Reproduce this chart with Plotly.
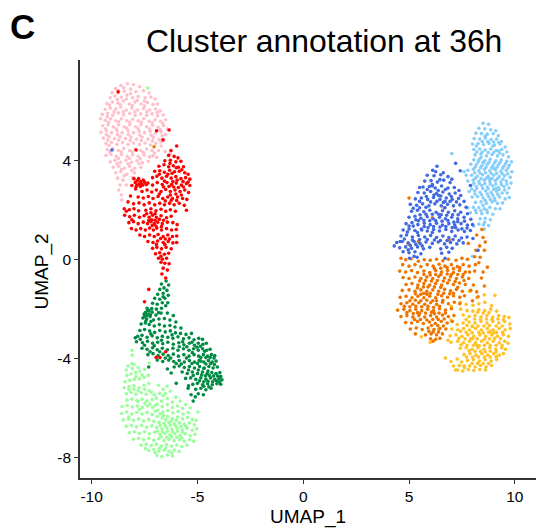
import plotly.graph_objects as go

pink = [(-8.62,7.05),(-8.31,7.12),(-8.02,7.08),(-7.74,7.0),(-8.87,6.92),(-9.03,6.76),(-8.73,6.84),(-8.46,6.82),(-8.16,6.9),(-7.91,6.8),(-7.55,6.84),(-7.28,6.74),
(-9.12,6.55),(-8.9,6.62),(-8.6,6.58),(-8.33,6.66),(-8.07,6.55),(-7.8,6.6),(-7.47,6.55),(-7.2,6.58),(-7.0,6.5),(-9.28,6.32),(-9.02,6.38),(-8.76,6.34),(-8.5,6.42),(-8.22,6.3),(-7.95,6.38),(-7.66,6.3),(-7.36,6.36),(-7.1,6.28),(-6.88,6.3),
(-9.36,6.08),(-9.12,6.14),(-8.86,6.1),(-8.62,6.18),(-8.36,6.06),(-8.1,6.14),(-7.82,6.06),(-7.55,6.12),(-7.26,6.06),(-6.98,6.1),(-6.76,6.02),(-9.5,5.88),(-9.24,5.92),(-9.0,5.84),(-8.74,5.94),(-8.48,5.86),(-8.2,5.92),(-7.94,5.84),(-7.68,5.9),(-7.4,5.84),(-7.14,5.9),(-6.88,5.82),(-6.62,5.86),
(-9.58,5.7),(-9.36,5.64),(-9.1,5.7),(-8.86,5.62),(-8.6,5.7),(-8.34,5.62),(-8.06,5.68),(-7.8,5.62),(-7.54,5.7),(-7.28,5.6),(-7.0,5.66),(-6.74,5.6),(-6.5,5.66),(-9.48,5.42),(-9.22,5.46),(-8.98,5.38),(-8.72,5.46),(-8.46,5.38),(-8.2,5.46),(-7.92,5.38),(-7.66,5.46),(-7.4,5.38),(-7.12,5.44),(-6.86,5.36),(-6.6,5.42),(-6.42,5.3),
(-9.56,5.16),(-9.3,5.22),(-9.06,5.14),(-8.8,5.22),(-8.56,5.14),(-8.28,5.22),(-8.02,5.14),(-7.76,5.2),(-7.5,5.14),(-7.24,5.2),(-6.98,5.12),(-6.72,5.18),(-6.5,5.06),(-9.44,4.92),(-9.18,4.98),(-8.92,4.9),(-8.66,4.98),(-8.4,4.9),(-8.14,4.96),(-7.88,4.88),(-7.62,4.96),(-7.34,4.88),(-7.08,4.94),(-6.82,4.86),(-6.6,4.84),
(-9.32,4.7),(-9.06,4.74),(-8.8,4.66),(-8.54,4.74),(-8.28,4.66),(-8.02,4.72),(-7.74,4.66),(-7.48,4.72),(-7.22,4.64),(-6.96,4.7),(-6.72,4.6),(-9.26,4.46),(-9.0,4.5),(-8.74,4.42),(-8.48,4.5),(-8.2,4.42),(-7.94,4.48),(-7.68,4.42),(-7.4,4.48),(-7.14,4.42),(-6.84,4.42),(-6.52,4.38),(-6.28,4.3),
(-9.32,4.22),(-9.08,4.26),(-8.84,4.18),(-8.58,4.26),(-8.32,4.18),(-8.06,4.24),(-7.8,4.18),(-7.52,4.24),(-7.26,4.16),(-6.92,4.14),(-9.12,3.96),(-8.9,4.02),(-8.64,3.94),(-8.38,4.02),(-8.12,3.94),(-7.86,4.0),(-7.6,3.92),(-7.32,3.98),(-8.98,3.74),(-8.72,3.78),(-8.46,3.7),(-8.2,3.78),(-7.96,3.7),(-7.68,3.74),(-7.98,3.52),
(-8.86,3.52),(-8.62,3.56),(-8.34,3.46),(-8.08,3.32),(-8.78,3.3),(-8.52,3.22),(-8.66,3.02),(-8.72,2.82),(-8.36,3.02),(-8.6,2.62),(-8.58,2.42),(-7.92,3.2),(-9.18,4.62),(-7.1,4.2),
(-8.48,6.96),(-8.16,6.72),(-8.78,6.48),(-8.36,6.5),(-7.84,6.44),(-7.5,6.42),(-9.16,6.26),(-8.64,6.28),(-8.08,6.24),(-7.5,6.22),(-9.26,5.78),(-8.94,5.98),(-8.5,5.98),(-7.96,5.98),(-7.4,5.98),(-6.9,5.96),(-9.2,5.56),(-8.72,5.58),(-8.2,5.56),(-7.66,5.56),(-7.14,5.54),(-6.64,5.52),(-9.34,5.3),(-8.84,5.3),(-8.34,5.32),(-7.8,5.3),(-7.26,5.3),(-6.76,5.28),(-9.3,5.06),(-8.78,5.06),(-8.26,5.06),(-7.72,5.04),(-7.18,5.04),(-6.66,5.02),(-9.24,4.84),(-8.72,4.84),(-8.18,4.82),(-7.66,4.82),(-7.12,4.8),(-6.72,4.76),(-9.14,4.36),(-8.6,4.36),(-8.08,4.36),(-7.56,4.34),(-7.02,4.32),(-8.74,4.1),(-8.22,4.1),(-7.7,4.08),(-8.8,3.88),(-8.28,3.88),(-7.76,3.88),(-8.58,3.66),(-8.1,3.62),(-8.46,3.4)]

red = [(-6.36,4.22),(-6.1,4.18),(-5.92,4.12),(-6.54,4.0),(-6.28,4.02),(-6.02,3.96),(-5.78,3.98),(-6.82,3.78),(-6.58,3.84),(-6.36,3.76),(-6.14,3.8),(-5.9,3.74),(-5.66,3.76),(-7.02,3.58),(-6.78,3.6),(-6.56,3.54),(-6.32,3.62),(-6.08,3.56),(-5.86,3.58),(-5.6,3.52),(-5.44,3.46),
(-7.12,3.32),(-6.92,3.38),(-6.68,3.3),(-6.46,3.38),(-6.24,3.3),(-6.02,3.36),(-5.78,3.28),(-5.56,3.32),(-5.36,3.26),(-7.94,3.12),(-7.84,3.2),(-7.76,3.06),(-7.68,3.16),(-7.58,3.02),(-7.5,3.14),(-7.42,3.04),(-7.86,3.02),(-7.7,2.96),(-7.56,3.22),(-7.34,3.1),(-7.12,3.02),(-6.9,3.12),(-6.66,3.04),(-6.44,3.12),(-6.22,3.04),(-6.0,3.1),(-5.76,3.02),(-5.52,3.08),(-5.36,3.0),
(-7.92,2.86),(-7.62,2.76),(-7.38,2.82),(-7.16,2.74),(-6.94,2.82),(-6.72,2.76),(-6.5,2.84),(-6.28,2.76),(-6.06,2.82),(-5.82,2.76),(-5.6,2.82),(-5.42,2.72),(-8.16,2.58),(-7.8,2.54),(-7.56,2.5),(-7.32,2.56),(-7.1,2.48),(-6.86,2.56),(-6.64,2.48),(-6.4,2.54),(-6.18,2.48),(-5.94,2.54),(-5.7,2.48),(-5.5,2.44),
(-8.28,2.34),(-8.02,2.26),(-7.76,2.3),(-7.52,2.22),(-7.28,2.3),(-7.02,2.22),(-6.78,2.28),(-6.56,2.22),(-6.32,2.28),(-6.1,2.22),(-5.86,2.28),(-5.62,2.2),(-8.46,2.06),(-8.22,2.02),(-8.0,2.06),(-7.78,1.98),(-7.44,2.0),(-7.2,2.06),(-6.96,1.98),(-6.72,2.04),(-6.5,1.96),(-6.28,2.02),(-6.04,1.96),
(-8.44,1.8),(-8.2,1.74),(-7.98,1.8),(-7.74,1.72),(-7.52,1.78),(-7.28,1.72),(-7.12,1.8),(-6.94,1.72),(-6.72,1.78),(-6.46,1.7),(-6.24,1.76),(-8.24,1.5),(-8.02,1.54),(-7.8,1.46),(-7.56,1.52),(-7.36,1.46),(-7.2,1.54),(-7.04,1.46),(-6.88,1.52),(-6.66,1.46),(-6.42,1.52),(-6.16,1.5),(-5.96,1.42),
(-8.12,1.26),(-7.9,1.2),(-7.68,1.26),(-7.46,1.2),(-7.26,1.28),(-7.08,1.2),(-6.92,1.28),(-6.7,1.2),(-6.46,1.26),(-6.22,1.2),(-6.0,1.22),(-7.72,1.0),(-7.5,0.94),(-7.26,1.0),(-7.04,0.94),(-6.86,1.02),(-6.62,0.94),(-6.4,1.0),(-6.18,0.94),(-5.98,0.96),
(-7.34,0.74),(-7.1,0.7),(-6.88,0.76),(-6.62,0.7),(-6.38,0.74),(-6.16,0.68),(-5.98,0.7),(-7.12,0.46),(-6.92,0.5),(-6.7,0.44),(-6.48,0.5),(-6.24,0.44),(-6.98,0.24),(-6.78,0.28),(-6.56,0.22),(-6.36,0.26),(-6.84,0.06),(-6.66,0.02),(-6.46,0.06),(-6.72,-0.1),(-6.54,-0.14),(-6.34,-0.16),(-6.62,-0.34),(-6.42,-0.42),(-6.68,-0.58),(-6.5,-0.74),(-7.3,-1.2),(-7.5,-1.7),(-6.77,-3.96),(-6.5,-3.72),(-6.95,-3.95),
(-8.1,3.0),(-8.0,3.28),(-7.9,2.94),(-7.78,3.28),(-7.64,3.06),(-6.0,3.72),(-6.2,3.5),(-5.74,3.64),(-5.96,3.22),(-6.16,3.16),(-5.68,3.16),(-5.44,3.14),(-6.4,3.46),(-6.56,3.18),(-6.8,3.46),(-6.3,3.9),(-6.12,2.94),(-5.9,2.92),(-5.66,2.94),(-6.34,2.96),(-6.6,2.94),(-6.8,2.66),(-6.28,2.62),(-6.02,2.66),(-5.76,2.62),(-6.52,2.38),(-6.24,2.4),(-5.98,2.4),(-7.16,1.62),(-7.0,1.6),(-7.3,1.58),(-7.14,1.38),(-6.96,1.36),(-6.8,1.64),(-6.6,1.6),(-7.2,1.9),(-7.0,1.86),(-7.4,1.86),(-6.7,1.34),(-6.32,0.84),(-6.52,0.84),(-6.74,0.86),(-6.94,0.62),(-6.54,0.62),(-6.72,0.14),(-8.36,1.96),(-8.1,1.62),(-5.52,2.0)]

dkgreen = [(-6.48,-0.86),(-6.7,-0.98),(-6.36,-1.02),(-6.58,-1.14),(-6.78,-1.2),(-6.44,-1.24),(-6.88,-1.4),(-6.62,-1.36),(-6.38,-1.44),(-7.02,-1.56),(-6.78,-1.6),(-6.54,-1.56),(-7.12,-1.76),(-6.9,-1.8),(-6.66,-1.74),(-6.4,-1.74),(-7.38,-1.96),(-7.16,-1.98),(-6.94,-2.0),(-6.7,-1.96),(-7.46,-2.14),(-7.3,-2.2),(-7.14,-2.12),(-6.96,-2.24),(-6.72,-2.16),(-6.42,-2.16),(-6.14,-2.26),
(-7.58,-2.36),(-7.4,-2.4),(-7.24,-2.3),(-7.08,-2.44),(-6.82,-2.4),(-6.56,-2.38),(-6.3,-2.44),(-6.02,-2.52),(-7.66,-2.6),(-7.46,-2.56),(-7.28,-2.62),(-7.04,-2.68),(-6.8,-2.62),(-6.56,-2.68),(-6.3,-2.66),(-6.06,-2.72),(-5.78,-2.76),(-7.72,-2.86),(-7.5,-2.82),(-7.26,-2.88),(-7.02,-2.94),(-6.78,-2.86),(-6.52,-2.92),(-6.28,-2.88),(-6.04,-2.96),(-5.8,-2.98),(-5.54,-3.02),(-5.28,-2.98),
(-7.82,-3.1),(-7.62,-3.06),(-7.38,-3.14),(-7.14,-3.08),(-6.9,-3.16),(-6.66,-3.1),(-6.4,-3.14),(-6.16,-3.18),(-5.92,-3.12),(-5.66,-3.2),(-5.4,-3.16),(-5.16,-3.24),(-4.94,-3.18),(-4.76,-3.22),(-7.88,-3.32),(-7.6,-3.36),(-7.36,-3.3),(-7.12,-3.38),(-6.88,-3.34),(-6.64,-3.4),(-6.4,-3.34),(-6.14,-3.42),(-5.88,-3.36),(-5.64,-3.44),(-5.38,-3.38),(-5.14,-3.46),(-4.96,-3.38),(-4.74,-3.42),(-4.58,-3.38),
(-7.62,-3.58),(-7.38,-3.62),(-7.12,-3.56),(-6.9,-3.64),(-6.66,-3.58),(-6.42,-3.64),(-6.16,-3.58),(-5.92,-3.66),(-5.66,-3.6),(-5.4,-3.66),(-5.18,-3.6),(-4.96,-3.66),(-4.76,-3.6),(-4.56,-3.66),(-4.4,-3.62),(-7.34,-3.84),(-7.1,-3.8),(-6.86,-3.88),(-6.62,-3.82),(-6.38,-3.88),(-6.14,-3.82),(-5.9,-3.9),(-5.64,-3.84),(-5.4,-3.9),(-5.16,-3.84),(-4.94,-3.9),(-4.72,-3.84),(-4.52,-3.9),(-4.34,-3.84),(-4.18,-3.88),
(-6.9,-4.06),(-6.64,-4.12),(-6.36,-4.06),(-6.12,-4.12),(-5.86,-4.08),(-5.62,-4.14),(-5.38,-4.08),(-5.14,-4.14),(-4.92,-4.08),(-4.7,-4.14),(-4.48,-4.08),(-4.3,-4.14),(-4.12,-4.1),(-6.1,-4.34),(-5.86,-4.3),(-5.62,-4.36),(-5.38,-4.32),(-5.14,-4.38),(-4.9,-4.32),(-4.68,-4.38),(-4.46,-4.32),(-4.26,-4.38),(-4.06,-4.34),(-6.24,-4.58),(-5.72,-4.54),(-5.48,-4.6),(-5.24,-4.54),(-5.0,-4.6),(-4.76,-4.54),(-4.54,-4.6),(-4.32,-4.56),(-4.12,-4.6),(-3.94,-4.56),
(-5.56,-4.8),(-5.32,-4.78),(-5.08,-4.84),(-4.84,-4.78),(-4.6,-4.84),(-4.38,-4.78),(-4.18,-4.84),(-3.98,-4.8),(-3.84,-4.86),(-5.22,-5.04),(-5.0,-5.0),(-4.76,-5.06),(-4.52,-5.02),(-4.3,-5.06),(-4.08,-5.02),(-3.9,-5.04),(-5.44,-5.2),(-5.08,-5.24),(-4.84,-5.2),(-4.6,-5.26),(-4.36,-5.2),(-5.3,-5.46),(-4.96,-5.42),(-4.72,-5.46),(-5.2,-5.72),(-6.0,-5.0),(-6.42,-4.42),(-7.3,-4.34),(-5.24,-3.76),(-7.94,-3.16),(-5.0,-4.2),(-4.84,-4.1),(-4.7,-4.4),(-4.5,-4.5),(-7.5,-2.3),(-7.36,-2.06),(-7.22,-2.24),
(-7.52,-2.2),(-7.4,-2.26),(-7.28,-2.06),(-7.44,-2.48),(-7.2,-2.5),(-6.62,-1.5),(-6.5,-1.86),(-6.84,-2.14),(-7.2,-3.0),(-6.7,-3.26),(-6.2,-3.04),(-5.7,-3.32),(-5.26,-3.34),(-5.02,-3.54),(-4.86,-3.5),(-4.66,-3.7),(-4.84,-3.96),(-4.6,-3.96),(-4.4,-3.96),(-4.22,-3.98),(-4.6,-4.22),(-4.38,-4.2),(-4.2,-4.24),(-4.96,-4.46),(-4.8,-4.66),(-4.62,-4.7),(-4.44,-4.68),(-4.24,-4.7),(-4.05,-4.7),(-3.9,-4.72),(-4.9,-4.9),(-4.7,-4.94),(-4.5,-4.92),(-4.28,-4.94),(-4.1,-4.9),(-3.96,-4.94),(-5.2,-4.68),(-5.42,-4.46),(-5.26,-4.2),(-5.52,-3.98),(-5.76,-4.22),(-6.0,-4.2),(-6.26,-3.98),(-6.52,-3.98),(-6.78,-3.72),(-7.04,-3.48),(-7.24,-3.72),(-7.5,-3.46),(-7.7,-3.22),(-5.86,-3.52),(-5.5,-3.52),(-4.7,-5.12),(-4.46,-5.14),(-5.1,-5.55),(-5.42,-5.1)]

ltgreen = [(-8.1,-3.66),(-8.08,-3.86),(-7.28,-4.18),(-8.1,-4.2),(-8.08,-4.4),(-8.34,-4.68),(-8.14,-4.62),(-7.92,-4.56),(-7.72,-4.5),(-8.42,-4.94),(-8.2,-4.88),(-7.98,-4.84),(-7.74,-4.82),(-7.52,-4.76),(-7.32,-4.68),(-8.46,-5.18),(-8.24,-5.14),(-8.0,-5.1),(-7.76,-5.18),(-7.52,-5.08),(-7.3,-5.0),(-6.62,-5.5),(-8.36,-5.42),(-8.14,-5.36),(-7.9,-5.44),(-7.66,-5.38),(-7.42,-5.44),(-7.18,-5.36),(-6.94,-5.6),(-6.7,-5.72),(-6.42,-5.62),(-6.18,-5.76),
(-8.34,-5.68),(-8.1,-5.64),(-7.86,-5.7),(-7.62,-5.64),(-7.38,-5.72),(-7.14,-5.66),(-6.9,-5.84),(-6.66,-5.94),(-6.42,-5.86),(-6.18,-5.98),(-5.94,-5.92),(-5.7,-6.02),(-8.56,-5.94),(-8.32,-5.9),(-8.08,-5.96),(-7.84,-5.92),(-7.6,-5.98),(-7.36,-5.92),(-7.12,-5.98),(-6.88,-6.1),(-6.64,-6.16),(-6.4,-6.1),(-6.16,-6.2),(-5.92,-6.14),(-5.68,-6.24),(-5.44,-6.18),
(-8.58,-6.22),(-8.34,-6.16),(-8.1,-6.24),(-7.86,-6.18),(-7.62,-6.24),(-7.38,-6.18),(-7.14,-6.26),(-6.9,-6.34),(-6.66,-6.4),(-6.42,-6.34),(-6.18,-6.42),(-5.94,-6.36),(-5.7,-6.44),(-5.46,-6.38),(-5.24,-6.46),(-8.5,-6.48),(-8.26,-6.44),(-8.02,-6.5),(-7.78,-6.44),(-7.54,-6.52),(-7.3,-6.46),(-7.06,-6.54),(-6.82,-6.58),(-6.58,-6.62),(-6.34,-6.58),(-6.1,-6.64),(-5.86,-6.6),(-5.62,-6.66),(-5.38,-6.6),(-5.14,-6.68),
(-8.36,-6.74),(-8.12,-6.7),(-7.88,-6.76),(-7.64,-6.7),(-7.4,-6.78),(-7.16,-6.72),(-6.92,-6.8),(-6.68,-6.84),(-6.44,-6.8),(-6.2,-6.86),(-5.96,-6.82),(-5.72,-6.88),(-5.48,-6.82),(-5.24,-6.9),(-5.04,-6.84),(-8.22,-7.0),(-7.98,-6.96),(-7.74,-7.02),(-7.5,-6.96),(-7.26,-7.04),(-7.02,-6.98),(-6.78,-7.06),(-6.54,-7.02),(-6.3,-7.08),(-6.06,-7.04),(-5.82,-7.1),(-5.58,-7.04),(-5.34,-7.12),(-5.12,-7.06),
(-8.02,-7.26),(-7.78,-7.22),(-7.54,-7.28),(-7.3,-7.22),(-7.06,-7.3),(-6.82,-7.24),(-6.58,-7.32),(-6.34,-7.26),(-6.1,-7.32),(-5.86,-7.28),(-5.62,-7.34),(-5.38,-7.28),(-5.18,-7.34),(-7.66,-7.5),(-7.42,-7.46),(-7.18,-7.52),(-6.94,-7.46),(-6.7,-7.54),(-6.46,-7.48),(-6.22,-7.54),(-5.98,-7.5),(-5.74,-7.56),(-5.5,-7.5),(-7.3,-7.72),(-7.06,-7.68),(-6.82,-7.74),(-6.58,-7.7),(-6.34,-7.76),(-6.1,-7.7),(-5.86,-7.76),(-6.92,-7.92),(-6.68,-7.96),(-6.42,-7.9),(-6.18,-7.94),(-7.82,-5.74),(-8.24,-6.36),(-7.0,-5.9),(-6.6,-6.3),
(-8.28,-4.3),(-8.36,-4.46),(-8.0,-4.24),(-7.8,-4.36),(-7.5,-4.44),(-7.9,-4.72),(-7.62,-4.66),(-6.84,-5.08),(-6.62,-5.24),(-6.44,-5.12),(-6.28,-5.32),(-6.78,-5.4),(-7.04,-5.46),(-7.28,-5.3),(-6.52,-5.42),(-7.5,-5.24),(-7.8,-5.3),(-8.0,-5.24),(-8.24,-5.26),(-6.02,-5.56),(-5.82,-5.72),(-5.56,-5.86),(-7.24,-5.84),(-7.48,-5.8),(-7.74,-6.06),(-7.0,-6.12),(-6.76,-6.24),(-6.5,-6.48),(-6.24,-6.52),(-6.0,-6.5),(-6.76,-6.7),(-6.52,-6.72),(-6.28,-6.7),(-6.04,-6.72),(-5.78,-6.74),(-5.54,-6.74),(-6.9,-6.94),(-6.66,-6.96),(-6.42,-6.94),(-6.18,-6.96),(-5.94,-6.94),(-5.7,-6.98),(-6.72,-7.16),(-6.46,-7.18),(-6.22,-7.16),(-5.98,-7.18),(-5.74,-7.2),(-6.8,-7.64),(-6.5,-7.62),(-7.0,-7.8),(-6.2,-7.82),(-7.46,-7.64),(-5.34,-6.0),(-5.06,-6.5),(-4.98,-6.16)]

blue = [(6.32,3.78),(6.12,3.62),(6.62,3.52),(5.86,3.42),(6.18,3.4),(6.5,3.44),(6.84,3.36),(7.02,3.26),(5.74,3.18),(6.04,3.2),(6.34,3.14),(6.64,3.22),(6.94,3.12),(5.66,2.94),(5.96,2.96),(6.24,2.9),(6.54,2.98),(6.84,2.9),(7.14,2.92),(7.36,2.8),(5.42,2.72),(5.72,2.7),(6.02,2.76),(6.3,2.68),(6.6,2.74),(6.9,2.66),(7.18,2.7),(7.44,2.6),
(5.3,2.46),(5.58,2.5),(5.88,2.44),(6.16,2.52),(6.46,2.44),(6.76,2.5),(7.04,2.44),(7.34,2.48),(7.6,2.36),(5.06,2.24),(5.36,2.2),(5.64,2.26),(5.94,2.18),(6.22,2.26),(6.52,2.18),(6.82,2.24),(7.1,2.18),(7.4,2.22),(7.7,2.12),(5.12,1.96),(5.4,2.0),(5.7,1.94),(5.98,2.0),(6.28,1.92),(6.58,1.98),(6.86,1.92),(7.16,1.98),(7.44,1.92),(7.76,1.86),
(5.0,1.72),(5.28,1.76),(5.56,1.68),(5.86,1.74),(6.14,1.66),(6.44,1.72),(6.72,1.66),(7.02,1.72),(7.3,1.66),(7.6,1.72),(7.92,1.64),(4.86,1.46),(5.14,1.5),(5.42,1.42),(5.72,1.48),(6.0,1.42),(6.3,1.48),(6.58,1.4),(6.88,1.46),(7.16,1.4),(7.46,1.46),(7.76,1.4),(8.0,1.42),
(4.72,1.2),(5.0,1.24),(5.28,1.18),(5.58,1.24),(5.86,1.16),(6.16,1.22),(6.44,1.16),(6.74,1.22),(7.02,1.14),(7.32,1.2),(7.62,1.14),(7.9,1.18),(4.62,0.96),(4.88,1.0),(5.16,0.92),(5.44,0.98),(5.74,0.92),(6.02,0.98),(6.3,0.9),(6.6,0.96),(6.88,0.9),(7.18,0.96),(7.48,0.88),(7.74,0.92),(8.02,0.86),
(4.42,0.7),(4.68,0.74),(4.96,0.68),(5.24,0.74),(5.52,0.66),(5.8,0.72),(6.1,0.66),(6.38,0.72),(6.68,0.64),(6.96,0.7),(7.26,0.64),(7.56,0.68),(4.3,0.56),(4.56,0.48),(4.84,0.52),(5.12,0.46),(5.4,0.52),(5.68,0.44),(5.98,0.5),(6.5,0.44),(6.78,0.5),(7.04,0.46),(4.72,0.32),(5.0,0.28),(5.28,0.32),(5.56,0.24),(6.54,0.26),(6.88,0.3),(5.02,0.06),(5.38,0.1),(6.7,0.06),
(5.5,2.92),(5.82,2.56),(6.1,2.98),(6.4,2.6),(6.7,2.36),(7.0,2.56),(5.5,2.1),(5.8,2.12),(6.1,1.84),(6.4,1.84),(6.7,2.1),(5.6,1.2),(5.9,1.3),(6.1,1.1),(5.4,1.1),(5.2,1.36),(5.0,1.36),(7.2,1.3),(7.5,1.25),(7.9,3.0),(7.2,3.9),(7.42,3.6),(8.26,0.38),(7.12,1.52),
(6.26,3.56),(6.46,3.24),(6.1,3.04),(5.86,2.84),(6.38,2.8),(6.72,2.84),(6.18,2.62),(6.5,2.58),(6.02,2.34),(6.32,2.36),(6.62,2.32),(6.94,2.36),(7.24,2.34),(5.52,1.82),(5.8,1.84),(6.52,1.82),(6.78,1.8),(7.06,1.82),(7.32,1.82),(5.44,1.58),(5.7,1.6),(5.98,1.58),(6.26,1.58),(6.56,1.56),(6.84,1.58),(7.3,1.54),(7.62,1.56),(5.72,1.34),(6.16,1.34),(6.46,1.32),(6.74,1.34),(7.04,1.3),(7.74,1.28),(5.5,0.82),(5.86,0.82),(5.16,0.8),(4.78,0.84),(6.2,0.8),(6.48,0.78),(6.8,0.78),(7.08,0.82),(7.36,0.78),(5.06,0.58),(5.32,0.62),(5.62,0.56),(4.96,0.4),(5.24,0.14),(4.58,0.74),(4.92,1.12),(5.32,1.62),(5.2,2.08),(5.5,2.36)]

sky = [(8.5,5.52),(8.76,5.48),(8.3,5.32),(8.58,5.3),(8.86,5.26),(9.1,5.22),(8.16,5.12),(8.42,5.1),(8.7,5.08),(8.98,5.1),(9.22,5.02),(8.08,4.9),(8.34,4.88),(8.6,4.92),(8.88,4.86),(9.14,4.88),(9.36,4.78),(8.0,4.68),(8.26,4.7),(8.52,4.66),(8.78,4.7),(9.04,4.64),(9.3,4.68),(9.54,4.56),(7.02,4.3),(8.06,4.46),(8.34,4.48),(8.6,4.44),(8.86,4.48),(9.12,4.42),(9.38,4.46),(9.62,4.36),
(8.12,4.24),(8.4,4.28),(8.66,4.2),(8.92,4.26),(9.18,4.2),(9.44,4.24),(9.7,4.16),(8.06,4.04),(8.32,4.06),(8.58,4.0),(8.84,4.06),(9.1,4.0),(9.36,4.04),(9.62,3.98),(9.84,3.96),(7.92,3.86),(8.18,3.84),(8.44,3.8),(8.7,3.86),(8.96,3.8),(9.22,3.84),(9.48,3.78),(9.74,3.82),(7.78,3.62),(8.04,3.66),(8.3,3.6),(8.56,3.66),(8.82,3.6),(9.08,3.64),(9.34,3.58),(9.6,3.62),(9.86,3.56),
(7.7,3.42),(7.96,3.42),(8.22,3.38),(8.48,3.44),(8.74,3.38),(9.0,3.42),(9.26,3.36),(9.52,3.4),(9.78,3.34),(7.78,3.18),(8.04,3.22),(8.3,3.16),(8.56,3.22),(8.82,3.16),(9.08,3.2),(9.34,3.14),(9.6,3.18),(9.82,3.1),(7.92,3.0),(8.18,2.96),(8.44,3.0),(8.7,2.94),(8.96,2.98),(9.22,2.92),(9.48,2.96),(9.72,2.9),
(7.84,2.76),(8.1,2.78),(8.36,2.72),(8.62,2.78),(8.88,2.72),(9.14,2.76),(9.4,2.7),(9.64,2.7),(7.98,2.54),(8.24,2.56),(8.5,2.5),(8.76,2.56),(9.02,2.5),(9.28,2.54),(9.54,2.46),(9.74,2.52),(8.14,2.32),(8.4,2.34),(8.66,2.28),(8.92,2.34),(9.18,2.28),(9.42,2.3),(7.78,2.1),(8.04,2.12),(8.3,2.1),(8.56,2.06),(8.82,2.12),(9.08,2.06),(9.3,2.06),(7.9,1.9),(8.18,1.9),(8.44,1.86),(8.7,1.9),(8.96,1.84),
(8.36,1.66),(8.6,1.68),(8.84,1.62),(8.3,1.44),(8.52,1.42),(8.76,1.38),(8.06,1.36),(8.56,1.24),(8.0,0.14),(7.6,3.56),(8.6,5.0),(8.96,4.6),(9.24,4.4),(8.5,3.94),(8.8,3.28),(8.2,2.88),(9.1,2.88),(8.5,2.2),(8.84,2.44),(8.18,4.6),(9.0,3.7),(8.4,4.14),
(8.46,4.78),(8.72,4.78),(9.0,4.76),(9.24,4.74),(8.2,4.36),(8.46,4.36),(8.74,4.34),(9.0,4.34),(9.28,4.32),(8.26,3.96),(8.52,3.92),(8.78,3.94),(9.04,3.92),(9.3,3.94),(9.56,3.88),(8.12,3.74),(8.38,3.72),(8.64,3.74),(8.9,3.72),(9.16,3.74),(9.42,3.7),(9.68,3.72),(8.1,3.52),(8.36,3.5),(8.62,3.52),(8.88,3.5),(9.14,3.5),(9.4,3.48),(9.66,3.48),(8.14,3.3),(8.4,3.28),(8.66,3.3),(8.92,3.28),(9.18,3.28),(9.44,3.26),(8.06,3.08),(8.32,3.08),(8.58,3.08),(8.84,3.06),(9.1,3.06),(9.36,3.04),(9.62,3.06),(7.96,2.86),(8.48,2.88),(8.74,2.86),(9.0,2.84),(9.26,2.84),(9.52,2.82),(8.12,2.66),(8.44,2.62),(8.7,2.66),(8.96,2.62),(9.2,2.64),(8.6,2.4),(9.06,2.4),(8.68,2.0),(8.4,1.98),(8.14,2.0),(8.58,1.52)]

orange = [(4.62,0.06),(4.84,0.0),(5.1,0.04),(5.44,-0.06),(5.72,0.0),(6.0,-0.02),(6.3,0.02),(6.6,-0.04),(6.86,0.02),(7.22,-0.02),(7.5,0.06),(7.76,0.02),(8.1,0.12),(8.36,0.1),(4.7,-0.2),(5.0,-0.26),(5.28,-0.2),(5.56,-0.28),(5.86,-0.2),(6.14,-0.26),(6.42,-0.18),(6.7,-0.26),(7.0,-0.2),(7.28,-0.28),(7.56,-0.2),(7.84,-0.26),(8.14,-0.2),
(4.56,-0.46),(4.84,-0.5),(5.12,-0.44),(5.4,-0.52),(5.7,-0.46),(5.98,-0.52),(6.26,-0.44),(6.54,-0.5),(6.82,-0.44),(7.1,-0.52),(7.38,-0.44),(7.66,-0.5),(8.1,-0.46),(4.72,-0.72),(5.0,-0.76),(5.28,-0.7),(5.56,-0.76),(5.84,-0.7),(6.12,-0.76),(6.4,-0.68),(6.68,-0.74),(6.96,-0.68),(7.24,-0.76),(7.52,-0.7),(7.82,-0.76),(8.42,-0.74),
(4.86,-1.0),(5.14,-0.96),(5.42,-1.02),(5.7,-0.96),(5.98,-1.02),(6.26,-0.96),(6.54,-1.02),(6.82,-0.94),(7.1,-1.0),(7.38,-0.94),(7.66,-1.0),(8.04,-1.02),(8.56,-1.06),(4.68,-1.24),(5.0,-1.22),(5.28,-1.28),(5.56,-1.22),(5.84,-1.28),(6.12,-1.22),(6.4,-1.28),(6.68,-1.2),(6.96,-1.26),(7.24,-1.2),(7.52,-1.28),(7.92,-1.24),(8.2,-1.3),
(4.58,-1.52),(4.86,-1.48),(5.14,-1.54),(5.42,-1.48),(5.7,-1.54),(5.98,-1.48),(6.26,-1.54),(6.54,-1.46),(6.82,-1.52),(7.1,-1.46),(7.4,-1.52),(7.62,-1.46),(8.26,-1.5),(4.62,-1.78),(4.9,-1.74),(5.18,-1.8),(5.46,-1.74),(5.74,-1.8),(6.02,-1.74),(6.3,-1.8),(6.58,-1.72),(6.86,-1.78),(7.14,-1.72),(7.4,-1.78),(8.0,-1.66),
(4.46,-2.04),(4.76,-2.0),(5.04,-2.06),(5.32,-2.0),(5.6,-2.06),(5.88,-2.0),(6.16,-2.06),(6.44,-1.98),(6.72,-2.04),(7.0,-1.98),(4.62,-2.3),(4.9,-2.26),(5.18,-2.32),(5.46,-2.26),(5.74,-2.32),(6.02,-2.26),(6.3,-2.32),(6.58,-2.24),(6.86,-2.3),(7.12,-2.26),
(4.84,-2.54),(5.12,-2.56),(5.4,-2.5),(5.68,-2.58),(5.96,-2.52),(6.24,-2.58),(6.52,-2.5),(6.8,-2.56),(7.04,-2.5),(5.06,-2.8),(5.34,-2.76),(5.62,-2.82),(5.9,-2.76),(6.18,-2.82),(6.46,-2.78),(6.74,-2.8),(5.3,-3.0),(5.78,-3.04),(6.04,-3.0),(6.3,-3.04),(6.58,-3.0),(6.02,-3.2),(6.26,-3.22),(6.46,-3.18),(6.14,-3.3),
(5.9,-1.1),(6.2,-1.1),(6.5,-1.12),(5.7,-1.36),(6.0,-1.36),(6.3,-1.66),(6.6,-1.64),(5.6,-1.9),(5.9,-1.88),(6.2,-2.18),(5.4,-2.14),(7.0,-0.6),(7.3,-0.6),(6.8,-0.58),(6.5,-0.6),(7.3,-1.12),(7.1,-1.36),(4.96,0.64),(5.44,0.74),(6.9,0.8),(6.1,1.7),(5.0,2.5),(6.66,2.1),(7.8,0.66),(8.34,0.56),(8.6,0.72),(8.16,0.38),(8.56,0.38),
(5.5,-0.86),(5.78,-0.84),(6.06,-0.86),(6.34,-0.84),(6.62,-0.86),(6.9,-0.82),(7.18,-0.88),(5.4,-1.14),(5.68,-1.1),(6.36,-1.4),(6.64,-1.36),(6.92,-1.38),(5.3,-1.38),(5.56,-1.4),(5.84,-1.4),(6.12,-1.66),(5.84,-1.64),(5.56,-1.66),(5.3,-1.64),(5.04,-1.66),(6.44,-1.88),(6.16,-1.92),(5.32,-1.88),(5.04,-1.9),(4.78,-1.88),(6.06,-2.12),(5.78,-2.16),(5.5,-2.18),(5.2,-2.18),(4.9,-2.14),(6.42,-2.16),(6.72,-2.16),(6.12,-2.42),(5.84,-2.44),(5.54,-2.42),(5.26,-2.42),(6.38,-2.42),(6.66,-2.4),(6.06,-2.66),(6.36,-2.66),(6.62,-2.68),(6.14,-2.92),(6.4,-2.92),(5.94,-2.9),(6.2,-0.36),(6.5,-0.34),(6.8,-0.32),(7.1,-0.36),(7.4,-0.32),(6.26,-0.6),(6.0,-0.62),(5.7,-0.6),(7.56,-0.6),(7.6,-0.84),(7.86,-0.5),(8.3,-0.12),(8.7,-0.3),(8.5,-0.5),(8.44,1.22),(8.2,1.0),(8.5,0.9)]

yellow = [(7.86,-1.28),(8.2,-1.54),(8.56,-1.42),(9.06,-1.44),(7.0,-1.88),(7.42,-1.72),(7.7,-1.8),(8.02,-1.84),(8.3,-1.78),(8.58,-1.72),(8.9,-1.86),(7.44,-2.0),(7.74,-2.06),(8.02,-2.08),(8.3,-2.02),(8.58,-2.06),(8.86,-2.0),(9.14,-2.08),(7.56,-2.24),(7.84,-2.3),(8.12,-2.26),(8.4,-2.32),(8.68,-2.26),(8.96,-2.32),(9.24,-2.26),(9.5,-2.3),(9.72,-2.34),
(7.28,-2.62),(7.56,-2.56),(7.84,-2.52),(8.12,-2.56),(8.4,-2.5),(8.68,-2.56),(8.96,-2.5),(9.24,-2.56),(9.52,-2.5),(9.76,-2.6),(7.02,-2.8),(7.3,-2.84),(7.58,-2.78),(7.86,-2.84),(8.14,-2.78),(8.42,-2.84),(8.7,-2.78),(8.98,-2.84),(9.26,-2.78),(9.54,-2.84),(9.78,-2.78),
(6.94,-3.08),(7.22,-3.04),(7.5,-3.1),(7.78,-3.04),(8.06,-3.1),(8.34,-3.04),(8.62,-3.1),(8.9,-3.04),(9.18,-3.1),(9.46,-3.04),(9.7,-3.1),(6.98,-3.34),(7.3,-3.3),(7.58,-3.36),(7.86,-3.3),(8.14,-3.36),(8.42,-3.3),(8.7,-3.36),(8.98,-3.3),(9.26,-3.36),(9.52,-3.3),(9.68,-3.38),
(7.42,-3.58),(7.7,-3.56),(7.98,-3.62),(8.26,-3.56),(8.54,-3.62),(8.82,-3.56),(9.1,-3.62),(9.38,-3.56),(9.56,-3.62),(7.6,-3.84),(7.88,-3.8),(8.16,-3.86),(8.44,-3.8),(8.72,-3.86),(9.0,-3.8),(9.26,-3.86),(9.46,-3.8),(7.28,-4.02),(7.76,-4.08),(8.04,-4.04),(8.32,-4.1),(8.6,-4.04),(8.88,-4.1),(9.14,-4.04),(6.72,-3.98),(6.98,-4.12),
(7.1,-4.3),(7.38,-4.28),(7.62,-4.36),(7.86,-4.3),(8.12,-4.34),(8.38,-4.28),(8.64,-4.34),(8.9,-4.28),(7.3,-4.46),(7.54,-4.5),(7.8,-4.44),(8.06,-4.48),(8.34,-4.44),(8.62,-4.46),(7.6,-4.3),(8.0,-2.7),(8.3,-2.94),(8.56,-3.22),(8.8,-2.66),(8.2,-3.46),(8.6,-3.72),(8.0,-3.2),(7.74,-2.66),(9.0,-2.96),(6.0,-3.34),(5.58,-3.12),(6.84,-3.26),(6.98,-2.44),(6.4,-2.8),(7.44,-2.9),
(8.1,-2.4),(8.38,-2.42),(8.66,-2.4),(8.92,-2.42),(9.2,-2.4),(9.46,-2.42),(7.7,-2.42),(7.98,-2.68),(8.26,-2.68),(8.54,-2.68),(8.84,-2.9),(9.12,-2.68),(9.4,-2.68),(7.7,-2.94),(7.98,-2.96),(8.5,-2.96),(8.76,-2.94),(9.14,-2.94),(9.42,-2.94),(7.36,-3.18),(7.64,-3.2),(7.92,-3.2),(8.22,-3.2),(8.8,-3.2),(9.04,-3.18),(9.32,-3.2),(7.46,-3.44),(7.74,-3.46),(8.04,-3.46),(8.32,-3.48),(8.56,-3.46),(8.84,-3.46),(9.12,-3.46),(9.4,-3.46),(7.84,-3.68),(8.12,-3.7),(8.38,-3.7),(8.84,-3.7),(9.12,-3.72),(7.72,-3.94),(8.0,-3.94),(8.28,-3.94),(8.56,-3.94),(8.84,-3.94),(9.12,-3.92),(7.98,-4.2),(8.24,-4.2),(8.5,-4.2),(8.76,-4.2),(7.48,-4.14),(7.2,-4.46),(8.24,-2.12),(8.5,-2.16),(8.78,-2.14)]

# stray cells of other clusters
stray_red = [(-8.75,6.79),(-6.93,5.22),(-6.34,5.25),(-6.63,4.85),(-7.9,4.44),(-5.98,4.6),(-6.25,4.42)]
stray_blue = [(-9.04,4.44)]
stray_orange = [(-7.05,4.57)]
stray_ltgreen = [(-7.35,6.95)]

series = [
    ("pink", pink, "#FFC0CB"), ("ltgreen", ltgreen, "#9AFF9A"), ("sky", sky, "#87CEFA"),
    ("yellow", yellow, "#FFC125"), ("orange", orange, "#EE7600"), ("blue", blue, "#4169E1"),
    ("dkgreen", dkgreen, "#008B45"), ("red", red, "#FF0000"),
    ("stray_red", stray_red, "#FF0000"), ("stray_blue", stray_blue, "#4169E1"),
    ("stray_orange", stray_orange, "#EE7600"), ("stray_ltgreen", stray_ltgreen, "#9AFF9A"),
]
x_ticks = [-10, -5, 0, 5, 10]
y_ticks = [-8, -4, 0, 4]

fig = go.Figure()
for name, pts, col in series:
    fig.add_trace(go.Scatter(x=[p[0] for p in pts], y=[p[1] for p in pts], mode="markers", name=name,
                             marker=dict(color=col, size=3.6, line=dict(width=0))))

axis = dict(showgrid=False, zeroline=False, showline=True, linecolor="#333333", linewidth=1.6,
            ticks="outside", ticklen=4, tickwidth=1.2, tickcolor="#333333",
            tickfont=dict(family="Liberation Sans", size=15.5, color="black"))
fig.update_layout(
    width=536, height=531, autosize=False, showlegend=False, plot_bgcolor="white", paper_bgcolor="white",
    margin=dict(l=80, r=0, t=60, b=53),
    xaxis=dict(range=[-10.55, 11.0], tickvals=x_ticks, ticktext=[str(v) for v in x_ticks], **axis),
    yaxis=dict(range=[-8.83, 8.08], tickvals=y_ticks, ticktext=[str(v) for v in y_ticks], **axis),
    annotations=[
        dict(text="<b>C</b>", xref="paper", yref="paper", x=-0.158, y=1.079, xanchor="left", yanchor="middle",
             showarrow=False, font=dict(family="Liberation Sans", size=35, color="black")),
        dict(text="Cluster annotation at 36h", xref="paper", yref="paper", x=0.535, y=1.046, xanchor="center", yanchor="middle",
             showarrow=False, font=dict(family="Liberation Sans", size=31.9, color="black")),
        dict(text="UMAP_1", xref="paper", yref="paper", x=0.5, y=-0.094, xanchor="center", yanchor="middle",
             showarrow=False, font=dict(family="Liberation Sans", size=19, color="black")),
        dict(text="UMAP_2", xref="paper", yref="paper", x=-0.0825, y=0.495, xanchor="center", yanchor="middle", textangle=-90,
             showarrow=False, font=dict(family="Liberation Sans", size=19, color="black")),
    ],
)
fig.write_html("out.html", config={"displayModeBar": False},
               post_script="document.body.style.margin='0';document.body.style.overflow='hidden';")
